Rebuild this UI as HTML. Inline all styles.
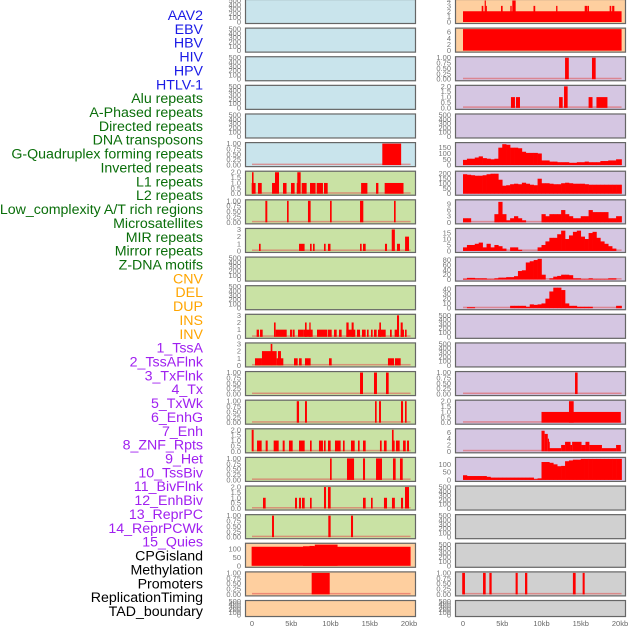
<!DOCTYPE html>
<html><head><meta charset="utf-8"><style>
html,body{margin:0;padding:0;background:#fff;width:630px;height:630px;overflow:hidden}
svg{display:block;font-family:"Liberation Sans",sans-serif}
</style></head><body>
<svg id="chart" width="630" height="630" viewBox="0 0 630 630"></svg>
<script>
// ---------- data ----------
const trackLabels = ["AAV2","EBV","HBV","HIV","HPV","HTLV-1","Alu repeats","A-Phased repeats","Directed repeats","DNA transposons","G-Quadruplex forming repeats","Inverted repeats","L1 repeats","L2 repeats","Low_complexity A/T rich regions","Microsatellites","MIR repeats","Mirror repeats","Z-DNA motifs","CNV","DEL","DUP","INS","INV","1_TssA","2_TssAFlnk","3_TxFlnk","4_Tx","5_TxWk","6_EnhG","7_Enh","8_ZNF_Rpts","9_Het","10_TssBiv","11_BivFlnk","12_EnhBiv","13_ReprPC","14_ReprPCWk","15_Quies","CPGisland","Methylation","Promoters","ReplicationTiming","TAD_boundary"];
const labelGroups = [6,13,5,15,5];
const xTickVals = [0,5,10,15,20];
const xTickLabels = ["0","5kb","10kb","15kb","20kb"];
const T500 = [0,100,200,300,400,500];
const T1 = [0,0.25,0.5,0.75,1];
const T2 = [0,0.5,1,1.5,2];
const T3 = [0,1,2,3];

// left column segments [startKb, endKb, value]
const L5 = [[16.6,19.0,1]];
const L6 = [[-0.04,0.46,1],[0,0.2,2],[0.76,1.24,1],[2.55,2.93,1],[2.93,3.44,2],[3.95,4.4,1],[4.97,5.43,1],[5.77,6.2,2],[5.7,5.8,1],[6.33,6.96,1],[7.39,8.1,1],[8.24,9.04,1],[9.17,9.64,1],[13.9,14.7,1],[15.8,16.1,1],[16.9,19.3,1]];
const L7 = [[1.7,1.95,1],[4.46,4.67,1],[7.13,7.47,1],[9.94,10.15,1],[13.76,14.18,1],[18.09,18.3,1]];
const L8 = [[0.89,1.1,1],[5.99,6.7,1],[7.39,7.6,1],[7.77,7.98,1],[9.17,9.38,1],[9.68,10.0,1],[13.76,13.97,1],[14.14,14.48,1],[16.94,17.2,1],[17.8,18.2,3],[18.47,18.85,1],[19.5,20.0,2]];
const L11 = [[0.59,0.89,1],[1.02,1.36,1],[2.8,3.01,2],[3.01,4.42,1],[4.84,5.14,1],[5.22,5.43,1],[5.86,6.54,1],[6.54,7.73,1],[6.75,6.96,2],[7.3,7.47,2],[8.28,9.6,1],[9.68,10.15,1],[10.45,10.79,1],[11.08,11.42,1],[12.02,13.16,1],[12.02,12.31,2],[12.69,12.95,2],[13.37,13.76,1],[14.01,14.48,1],[14.65,14.86,1],[15.16,15.37,1],[15.54,15.88,1],[16.05,17.03,1],[16.22,16.43,2],[17.58,17.8,1],[18.17,18.6,1],[18.47,18.73,3],[18.94,19.36,1],[18.94,19.2,2],[19.49,19.7,1]];
const L12 = [[0.38,1.27,1],[1.27,2.51,2],[2.38,2.59,3],[2.51,3.14,2],[3.14,3.99,1],[3.31,3.69,2],[5.35,5.82,1],[5.99,6.33,1],[6.75,7.47,1],[9.81,10.15,1],[17.32,18.09,1],[18.21,18.94,1]];
const L13 = [[13.76,14.14,1],[15.54,15.92,1],[17.07,17.41,1]];
const L14 = [[5.7,5.99,1],[6.75,7.0,1],[15.67,15.88,1],[16.18,16.43,1],[18.98,19.24,1],[19.49,19.7,1]];
const L15 = [[-0.04,0.21,2],[0.64,1.23,1],[1.74,2.0,1],[2.76,3.4,1],[3.91,4.16,1],[4.71,5.18,1],[5.99,6.71,1],[7.39,7.6,1],[8.53,9.04,1],[9.17,9.38,1],[9.68,10.02,1],[10.57,11.29,1],[11.59,11.8,1],[12.61,13.08,1],[13.5,13.71,1],[14.14,14.48,1],[16.3,16.52,1],[16.81,17.15,1],[17.83,18.17,1],[17.83,18.04,2],[18.34,18.81,1],[19.24,19.58,1],[19.75,20.0,1]];
const L16 = [[9.94,10.15,1],[12.1,13.0,1],[14.14,14.4,1],[15.8,16.56,1],[17.96,18.3,1],[18.85,19.2,1]];
const L17 = [[1.4,1.74,1],[5.48,5.73,1],[5.99,6.24,1],[6.37,6.71,1],[7.39,7.6,1],[9.17,9.43,2],[9.68,10.02,2],[14.14,14.48,1],[15.16,15.37,1],[16.81,17.2,1],[17.83,18.2,1],[18.98,19.24,1],[19.49,20.0,2]];
const L18 = [[2.55,2.8,1],[9.72,10.02,1],[12.61,12.87,1]];
const L19 = [[-0.05,20.2,115],[7.3,8.0,120],[8.0,10.9,128],[6.5,7.3,118]];
const L20 = [[7.6,9.9,1]];

// right column
const R0 = [[0,20.2,2],[2.38,2.59,3],[2.76,2.89,4],[2.89,2.97,3],[4.84,5.05,3],[6.03,6.2,3],[6.28,6.71,4],[8.98,9.2,3],[11.86,12.03,3],[15.5,15.8,3],[15.84,16.05,3],[18.68,18.89,3],[19.0,19.28,3]];
const R1 = [[0,20.2,7]];
const R2 = [[13.0,13.48,1],[16.43,16.9,1]];
const R3 = [[6.11,6.62,1],[6.75,7.26,1],[12.24,12.7,1],[12.87,13.33,2],[16.0,16.5,1],[17.0,18.4,1]];
const R13 = [[14.27,14.6,1]];
const R14 = [[10.0,20.1,1],[13.5,14.1,2]];
const R15 = [[10.0,10.4,6.5],[10.4,10.8,5.5],[10.8,10.9,4],[10.9,11.0,3],[11.0,12.5,1],[12.5,13.0,2],[13.0,13.7,3],[13.7,13.9,2],[13.9,15.1,3],[15.1,15.6,2],[15.6,16.1,3],[16.1,17.7,2],[17.7,19.5,1],[19.5,20.1,2]];
const R20 = [[-0.1,0.25,1],[2.55,2.89,1],[3.36,3.65,1],[6.7,6.97,1],[7.9,8.19,1],[14.0,14.35,1],[15.24,15.5,1]];

// right column profiles, 0.5kb bins
const P5 = [45,55,55,65,75,60,55,50,55,150,180,175,150,150,145,115,105,105,105,100,40,40,30,30,25,25,25,20,20,25,25,30,25,25,25,35,35,40,40,50,50];
const P6 = [195,190,185,180,180,185,195,200,200,140,80,85,95,100,95,110,100,90,85,150,105,105,100,95,95,105,110,105,100,100,100,95,90,90,90,90,90,90,90,90,90];
const P7 = [2,2,0,0,0,0,0,0,4,10,4,1,2,3,2,1,0,0,0,0,4,3,4,4,4,6,4,3,2,2,3,3,6,5,5,5,5,2,2,3,3];
const P8 = [3,5,5,6,7,3,6,3,5,4,2,0,3,3,1,0,0,0,0,3,5,8,11,11,14,17,10,13,16,17,12,10,15,16,11,8,6,4,2,0,0];
const P9 = [3,7,7,5,5,5,2,2,5,8,8,10,10,14,35,38,70,75,80,85,20,0,5,12,15,20,20,18,5,5,2,2,5,2,2,2,2,5,5,0,0];
const P10 = [0,2,2,0,0,0,0,0,0,0,0,0,5,5,5,5,3,8,7,8,10,20,35,43,43,38,10,5,5,3,3,3,3,0,0,0,0,0,0,5,5];
const P16 = [30,25,25,25,25,25,20,15,15,15,15,15,15,15,15,15,15,15,5,10,115,115,110,100,88,90,120,125,130,130,135,135,135,135,135,135,135,135,135,135,135];

// ---------- layout ----------
const BLUE="#c9e4ec", GREEN="#c9e2a4", ORANGE="#fecf9f", PURPLE="#d5c6e2", GREY="#d0d0d0";
function P(row,col,bg,ymax,ticks,fmt,seg,prof){return {row,col,bg,ymax,ticks,fmt,seg,prof};}
const panels = [];
const leftBg = r => r<=5?BLUE:(r<=18?GREEN:ORANGE);
const rightBg = r => r<=1?ORANGE:(r<=16?PURPLE:GREY);
const leftSpec = {5:[1,T1,2,L5],6:[2,T2,1,L6],7:[1,T1,2,L7],8:[3,T3,0,L8],11:[3,T3,0,L11],12:[3,T3,0,L12],13:[1,T1,2,L13],14:[1,T1,2,L14],15:[2,T2,1,L15],16:[1,T1,2,L16],17:[2,T2,1,L17],18:[1,T1,2,L18],19:[130,[0,50,100],0,L19],20:[1,T1,2,L20]};
const rightSpec = {0:[4,[0,1,2,3,4],0,R0],1:[7,[0,2,4,6],0,R1],2:[1,T1,2,R2],3:[2,T2,1,R3],13:[1,T1,2,R13],14:[2,T2,1,R14],15:[6.8,[0,2,4,6],0,R15],20:[1,T1,2,R20]};
const rightProf = {5:[185,[0,50,100,150],P5],6:[215,[0,50,100,150,200],P6],7:[10.5,[0,3,6,9],P7],8:[18,[0,5,10,15],P8],9:[88,[0,20,40,60,80],P9],10:[45,[0,10,20,30,40],P10],16:[138,[0,50,100],P16]};
for(let r=0;r<22;r++){
  const ls=leftSpec[r];
  panels.push(ls?P(r,0,leftBg(r),ls[0],ls[1],ls[2],ls[3],null):P(r,0,leftBg(r),500,T500,0,null,null));
  const rs=rightSpec[r], rp=rightProf[r];
  if(rs) panels.push(P(r,1,rightBg(r),rs[0],rs[1],rs[2],rs[3],null));
  else if(rp) panels.push(P(r,1,rightBg(r),rp[0],rp[1],0,null,rp[2]));
  else panels.push(P(r,1,rightBg(r),500,T500,0,null,null));
}

const svg=document.getElementById('chart');
const NS="http://www.w3.org/2000/svg";
function mk(tag,attrs,parent){const e=document.createElementNS(NS,tag);for(const k in attrs)e.setAttribute(k,attrs[k]);(parent||svg).appendChild(e);return e;}
const rowTop = r => -1 + r*28.62;
const rowH = r => r===21?17:25;
const panelX = c => c?455:245;
const PW = 171;
const xScale = (c,kb) => (c?463:252) + kb*7.85;
function yScale(p,v){const t=rowTop(p.row),h=rowH(p.row);return t+h-2 - v/p.ymax*(h-3.5);}

panels.forEach(p=>{
  const g=mk('g',{});
  
  
  const t=rowTop(p.row),h=rowH(p.row),x0=panelX(p.col);
  mk('rect',{x:x0,y:t,width:PW,height:h,fill:p.bg},g);
  const hasData=(p.seg&&p.seg.length)||(p.prof&&p.prof.length);
  if(hasData){
    const bl=mk('rect',{x:xScale(p.col,0),y:yScale(p,0)-1.5,width:xScale(p.col,20.2)-xScale(p.col,0),height:1.5,fill:"#e05050",opacity:0.55},g);
    
    
  }
  if(p.seg){p.seg.forEach(s=>{
    const xa=xScale(p.col,s[0]),xb=xScale(p.col,s[1]),ya=yScale(p,s[2]),yb=yScale(p,0);
    const b=mk('rect',{x:xa,y:ya,width:Math.max(1.2,xb-xa),height:yb-ya,fill:"#ff0000"},g);
    
    
  });}
  if(p.prof){p.prof.forEach((v,i)=>{
    const s=i*0.5,e=Math.min(s+0.5,20.2);
    const xa=xScale(p.col,s),xb=xScale(p.col,e),ya=yScale(p,v),yb=yScale(p,0);
    const b=mk('rect',{x:xa,y:ya,width:xb-xa+0.3,height:yb-ya,fill:"#ff0000"},g);
    
    
  });}
  mk('rect',{x:x0+0.5,y:t+0.5,width:PW-1,height:h-1,fill:"none",stroke:"#666",'stroke-width':1.2},g);
  p.ticks.forEach(tv=>{
    const tx=mk('text',{x:x0-4,y:yScale(p,tv)+2.5,'font-size':7.5,fill:"#777",'text-anchor':"end"},g);
    tx.textContent=p.fmt?tv.toFixed(p.fmt):String(tv);
    
    
  });
});

// x axis labels
[0,1].forEach(c=>{
  xTickVals.forEach((v,i)=>{
    const tx=mk('text',{x:xScale(c,v),y:626,'font-size':7.5,fill:"#666",'text-anchor':"middle"});
    tx.textContent=xTickLabels[i];
    
    
  });
});

// track labels
const groupColors=["#1a1ae6","#0a6e0a","#ffa500","#a020f0","#000000"];
let gi=0,cnt=0;
trackLabels.forEach((lab,i)=>{
  if(cnt>=labelGroups[gi]){gi++;cnt=0;}
  cnt++;
  const tx=mk('text',{x:203,y:15+i*13.86+5,'font-size':14.2,fill:groupColors[gi],'text-anchor':"end"});
  tx.textContent=lab;
  
  
});
</script>
</body></html>
